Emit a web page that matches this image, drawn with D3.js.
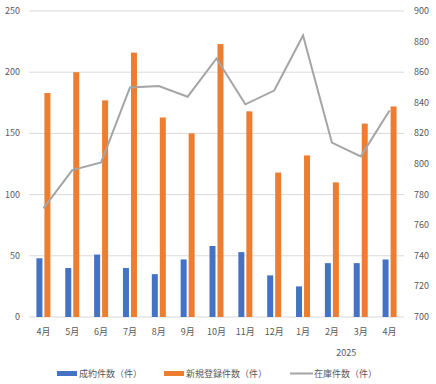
<!DOCTYPE html>
<html>
<head>
<meta charset="utf-8">
<script src="https://cdn.jsdelivr.net/npm/d3@7"></script>
<style>
  body { margin: 0; background: #fff; }
  svg text { font-family: "Noto Sans CJK JP", "Noto Sans", sans-serif; fill: #595959; }
</style>
</head>
<body>
<svg width="436" height="384"></svg>
<script>
// data
var months = ["4月", "5月", "6月", "7月", "8月", "9月", "10月", "11月", "12月", "1月", "2月", "3月", "4月"];
var contracts = [48, 40, 51, 40, 35, 47, 58, 53, 34, 25, 44, 44, 47];
var newRegs = [183, 200, 177, 216, 163, 150, 223, 168, 118, 132, 110, 158, 172];
var stock = [771, 796, 801, 850, 851, 844, 869, 839, 848, 884, 814, 805, 835];
var leftTicks = [0, 50, 100, 150, 200, 250];
var rightTicks = [700, 720, 740, 760, 780, 800, 820, 840, 860, 880, 900];
var seriesNames = ["成約件数（件）", "新規登録件数（件）", "在庫件数（件）"];
var yearLabel = "2025";

function renderChart() {
    var svg = d3.select("svg"),
        plotLeft = 29, plotRight = 404, plotTop = 11, plotBottom = 317;

    var idx = months.map(function (d, i) { return i; });
    var x = d3.scaleBand().domain(idx).range([plotLeft, plotRight]);
    var yL = d3.scaleLinear().domain([0, 250]).range([plotBottom, plotTop]);
    var yR = d3.scaleLinear().domain([700, 900]).range([plotBottom, plotTop]);

    // gridlines
    svg.append("g").selectAll("line")
        .data(leftTicks)
        .enter().append("line")
        .attr("x1", plotLeft).attr("x2", plotRight)
        .attr("y1", function (d) { return yL(d); })
        .attr("y2", function (d) { return yL(d); })
        .attr("stroke", "#d9d9d9").attr("stroke-width", 1);

    // left axis
    svg.append("g").selectAll("text")
        .data(leftTicks)
        .enter().append("text")
        .attr("x", 20)
        .attr("y", function (d) { return yL(d) + 3; })
        .attr("text-anchor", "end")
        .attr("font-size", 9)
        .text(function (d) { return d; });

    // right axis
    svg.append("g").selectAll("text")
        .data(rightTicks)
        .enter().append("text")
        .attr("x", 414)
        .attr("y", function (d) { return yR(d) + 3; })
        .attr("font-size", 9)
        .text(function (d) { return d; });

    // bars
    var cx = function (i) { return x(i) + x.bandwidth() / 2; };

    svg.append("g").selectAll("rect")
        .data(contracts)
        .enter().append("rect")
        .attr("x", function (d, i) { return cx(i) - 7; })
        .attr("y", function (d) { return yL(d); })
        .attr("width", 6)
        .attr("height", function (d) { return plotBottom - yL(d); })
        .attr("fill", "#4472c4");

    svg.append("g").selectAll("rect")
        .data(newRegs)
        .enter().append("rect")
        .attr("x", function (d, i) { return cx(i) + 1; })
        .attr("y", function (d) { return yL(d); })
        .attr("width", 6)
        .attr("height", function (d) { return plotBottom - yL(d); })
        .attr("fill", "#ed7d31");

    // line
    var line = d3.line()
        .x(function (d, i) { return cx(i); })
        .y(function (d) { return yR(d); });

    svg.append("path")
        .datum(stock)
        .attr("d", line)
        .attr("fill", "none")
        .attr("stroke", "#a5a5a5")
        .attr("stroke-width", 2);

    // category labels
    svg.append("g").selectAll("text")
        .data(months)
        .enter().append("text")
        .attr("x", function (d, i) { return cx(i); })
        .attr("y", 335)
        .attr("text-anchor", "middle")
        .attr("font-size", 9)
        .text(function (d) { return d; });

    svg.append("text")
        .attr("x", (cx(9) + cx(12)) / 2)
        .attr("y", 356)
        .attr("text-anchor", "middle")
        .attr("font-size", 9)
        .text(yearLabel);

    // legend
    var legend = svg.append("g");
    var lx = [57, 164, 290];
    legend.append("rect").attr("x", lx[0]).attr("y", 371).attr("width", 20).attr("height", 5).attr("fill", "#4472c4");
    legend.append("rect").attr("x", lx[1]).attr("y", 371).attr("width", 20).attr("height", 5).attr("fill", "#ed7d31");
    legend.append("line").attr("x1", lx[2]).attr("x2", lx[2] + 23).attr("y1", 373.5).attr("y2", 373.5)
        .attr("stroke", "#a5a5a5").attr("stroke-width", 2);
    legend.selectAll("text")
        .data(seriesNames)
        .enter().append("text")
        .attr("x", function (d, i) { return lx[i] + (i == 2 ? 24 : 22); })
        .attr("y", 377)
        .attr("font-size", 9)
        .text(function (d) { return d; });
}

renderChart();
</script>
</body>
</html>
